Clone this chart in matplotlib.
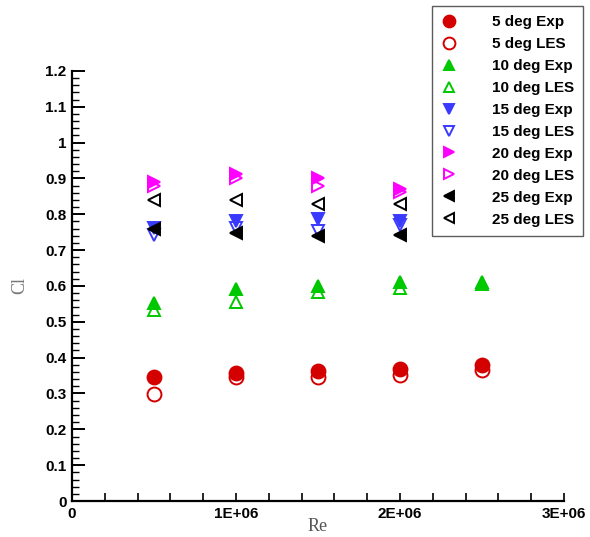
import numpy as np
import matplotlib
matplotlib.use("Agg")
import matplotlib.pyplot as plt
from matplotlib.ticker import MultipleLocator, FixedLocator

# Reynolds numbers
re_5 = [0.5e6, 1.0e6, 1.5e6, 2.0e6, 2.5e6]
re_20 = [0.5e6, 1.0e6, 1.5e6, 2.0e6]

# lift coefficient values
cl_5_exp = [0.347, 0.358, 0.363, 0.368, 0.380]
cl_5_les = [0.298, 0.345, 0.345, 0.352, 0.366]
cl_10_exp = [0.552, 0.592, 0.601, 0.610, 0.612]
cl_10_les = [0.532, 0.554, 0.582, 0.594, 0.605]
cl_15_exp = [0.762, 0.780, 0.787, 0.780]
cl_15_les = [0.743, 0.762, 0.752, 0.771]
cl_20_exp = [0.889, 0.911, 0.901, 0.871]
cl_20_les = [0.880, 0.901, 0.878, 0.862]
cl_25_exp = [0.759, 0.748, 0.738, 0.743]
cl_25_les = [0.841, 0.841, 0.830, 0.830]

x_ticks = [0, 1e6, 2e6, 3e6]
x_tick_labels = ["0", "1E+06", "2E+06", "3E+06"]
y_tick_labels = ["0", "0.1", "0.2", "0.3", "0.4", "0.5", "0.6", "0.7",
                 "0.8", "0.9", "1", "1.1", "1.2"]

red = "#d40000"
green = "#00c800"
blue = "#3a3aff"
magenta = "#ff00ff"

fig = plt.figure(figsize=(5.9, 5.37), dpi=100)
ax = fig.add_axes([0.122, 0.067, 0.834, 0.801])

series = [
    (re_5, cl_5_exp, "o", red, True, 10, "5 deg Exp"),
    (re_5, cl_5_les, "o", red, False, 10, "5 deg LES"),
    (re_5, cl_10_exp, "^", green, True, 8, "10 deg Exp"),
    (re_5, cl_10_les, "^", green, False, 8, "10 deg LES"),
    (re_20, cl_15_exp, "v", blue, True, 8, "15 deg Exp"),
    (re_20, cl_15_les, "v", blue, False, 8, "15 deg LES"),
    (re_20, cl_20_exp, ">", magenta, True, 8, "20 deg Exp"),
    (re_20, cl_20_les, ">", magenta, False, 8, "20 deg LES"),
    (re_20, cl_25_exp, "<", "black", True, 8, "25 deg Exp"),
    (re_20, cl_25_les, "<", "black", False, 8, "25 deg LES"),
]

for x, y, m, c, filled, ms, lab in series:
    ax.plot(x, y, linestyle="none", marker=m, markersize=ms,
            markerfacecolor=c if filled else "none", markeredgecolor=c,
            markeredgewidth=1.4, label=lab)

ax.set_xlim(0, 3e6)
ax.set_ylim(0, 1.2)
ax.spines["top"].set_visible(False)
ax.spines["right"].set_visible(False)
ax.spines["left"].set_linewidth(1.6)
ax.spines["bottom"].set_linewidth(1.6)

ax.xaxis.set_major_locator(FixedLocator(x_ticks))
ax.set_xticklabels(x_tick_labels)
ax.xaxis.set_minor_locator(MultipleLocator(2e5))
ax.yaxis.set_major_locator(FixedLocator(np.arange(13) / 10))
ax.set_yticklabels(y_tick_labels)
ax.yaxis.set_minor_locator(MultipleLocator(0.02))

ax.tick_params(axis="y", which="major", direction="in", length=9, width=1.4)
ax.tick_params(axis="y", which="minor", direction="in", length=5, width=1.0)
ax.tick_params(axis="x", which="both", direction="in", length=5.5, width=1.2)
ax.tick_params(which="major", labelsize=11, pad=4)
for t in ax.get_xticklabels() + ax.get_yticklabels():
    t.set_fontfamily("Liberation Sans")
    t.set_fontweight("bold")

ax.set_xlabel("Re", fontfamily="Liberation Serif", fontsize=13,
              color="#555555", labelpad=-2)
ax.set_ylabel("Cl", fontfamily="Liberation Serif", fontsize=13,
              color="#777777", labelpad=12)

leg = ax.legend(loc="upper right", bbox_to_anchor=(583 / 590, 1 - 6 / 537),
                bbox_transform=fig.transFigure, frameon=True, fancybox=False,
                edgecolor="#333333", handletextpad=2.3, labelspacing=0.52,
                borderpad=0.6, handlelength=1.0, markerscale=0.85,
                borderaxespad=0,
                prop={"family": "Liberation Sans", "weight": "bold", "size": 11})
leg.get_frame().set_linewidth(1.0)

fig.savefig("out.png", dpi=100)
